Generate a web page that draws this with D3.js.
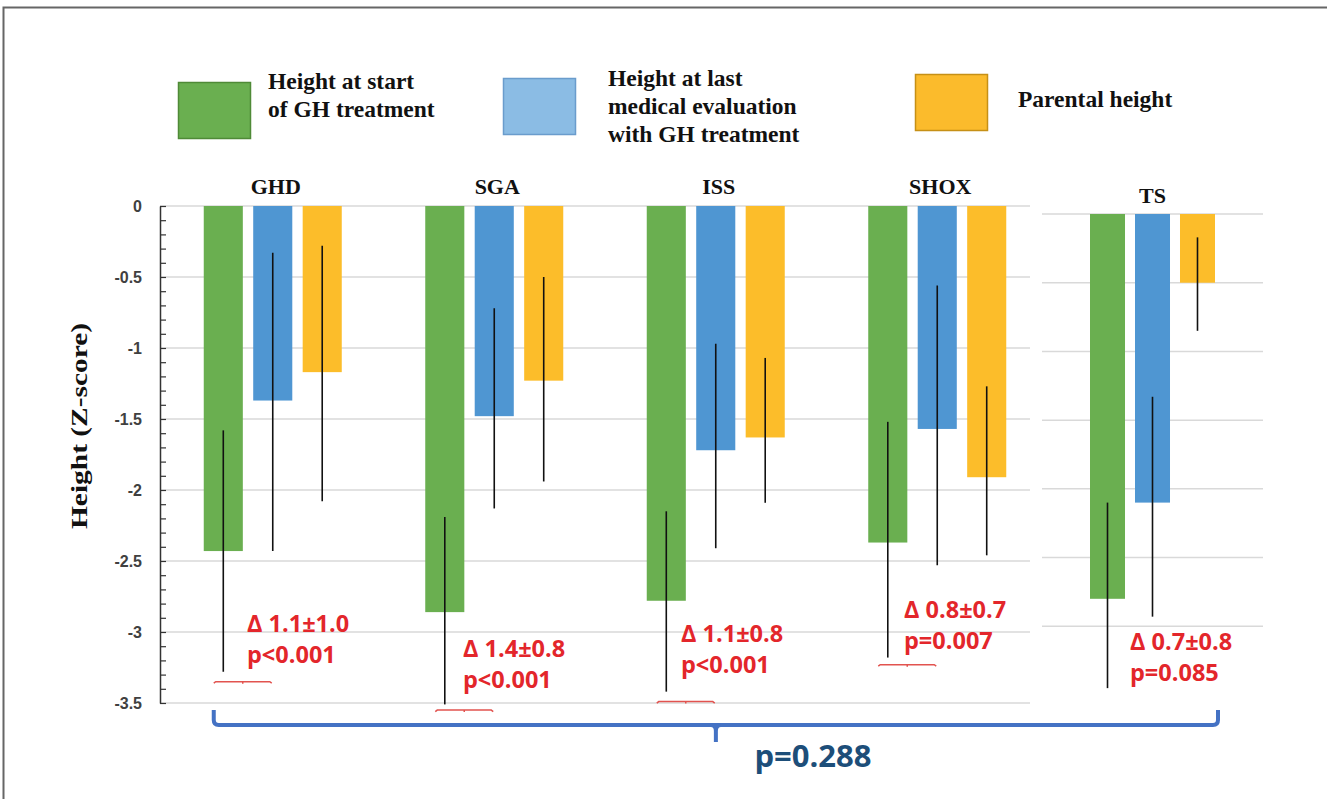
<!DOCTYPE html>
<html>
<head>
<meta charset="utf-8">
<script src="https://cdn.jsdelivr.net/npm/d3@7"></script>
<style>
  body { margin: 0; background: #fff; }
</style>
</head>
<body>
<div id="chart"></div>
<script>
const groups = ['GHD', 'SGA', 'ISS', 'SHOX'];
const tsGroup = 'TS';
const seriesKeys = ['start', 'last', 'parental'];
const legendLabels = [
  ['Height at start', 'of GH treatment'],
  ['Height at last', 'medical evaluation', 'with GH treatment'],
  ['Parental height']
];

// mean Z-scores, order: GHD, SGA, ISS, SHOX, TS
const startMean    = [-2.43, -2.86, -2.78, -2.37, -2.80];
const lastMean     = [-1.37, -1.48, -1.72, -1.57, -2.10];
const parentalMean = [-1.17, -1.23, -1.63, -1.91, -0.50];

// error bar ends (top, bottom)
const startErrTop    = [-1.58, -2.19, -2.15, -1.52, -2.10];
const startErrBottom = [-3.28, -3.51, -3.42, -3.18, -3.45];
const lastErrTop     = [-0.33, -0.72, -0.97, -0.56, -1.33];
const lastErrBottom  = [-2.43, -2.13, -2.41, -2.53, -2.93];
const parErrTop      = [-0.28, -0.50, -1.07, -1.27, -0.17];
const parErrBottom   = [-2.08, -1.94, -2.09, -2.46, -0.85];

const deltaLabels = ['Δ 1.1±1.0', 'Δ 1.4±0.8', 'Δ 1.1±0.8', 'Δ 0.8±0.7', 'Δ 0.7±0.8'];
const pLabels = ['p<0.001', 'p<0.001', 'p<0.001', 'p=0.007', 'p=0.085'];
const bracketLevel = [-3.35, -3.55, -3.49, -3.23];
const overallP = 'p=0.288';

const yTicks = d3.range(0, -3.51, -0.5);
const yMinorTicks = d3.range(0, -3.51, -0.1);

const colors = { start: '#6aaf50', last: '#4f96d2', parental: '#fcbd2a' };
const legendColors = { start: '#6aaf50', last: '#8bbce4', parental: '#fbbb2c' };
const legendStroke = { start: '#4f8a37', last: '#6a9ccc', parental: '#c69016' };

const width = 1327, height = 799;
const allGroups = groups.concat([tsGroup]);
const rows = allGroups.map((g, i) => ({
  name: g,
  start:    { mean: startMean[i],    top: startErrTop[i], bottom: startErrBottom[i] },
  last:     { mean: lastMean[i],     top: lastErrTop[i],  bottom: lastErrBottom[i] },
  parental: { mean: parentalMean[i], top: parErrTop[i],   bottom: parErrBottom[i] }
}));

const svg = d3.select('#chart').append('svg')
  .attr('width', width)
  .attr('height', height);

// outer frame
svg.append('rect')
  .attr('x', 3.5).attr('y', 7.5)
  .attr('width', width).attr('height', height)
  .attr('fill', 'none')
  .attr('stroke', '#666')
  .attr('stroke-width', 2);

// scales, main panel
const yScale = d3.scaleLinear().domain([0, -3.5]).range([206, 703]);
const x0 = d3.scaleBand().domain(groups).range([162, 1048]);
const x1 = d3.scaleBand().domain(seriesKeys).range([0, 138]).paddingInner(0.21);
const groupLeft = g => x0(g) + (x0.bandwidth() - 138) / 2;

// scales, TS panel
const yTs = d3.scaleLinear().domain([0, -3.5]).range([214, 695]);
const xTs = d3.scaleBand().domain(seriesKeys).range([1090, 1215]).paddingInner(0.222);

// gridlines
svg.append('g')
  .selectAll('line')
  .data(yTicks)
  .join('line')
  .attr('x1', 160).attr('x2', 1030)
  .attr('y1', d => yScale(d)).attr('y2', d => yScale(d))
  .attr('stroke', '#d9d9d9')
  .attr('stroke-width', 1.5);

svg.append('g')
  .selectAll('line')
  .data(yTicks.filter(d => d >= -3))
  .join('line')
  .attr('x1', 1042).attr('x2', 1263)
  .attr('y1', d => yTs(d)).attr('y2', d => yTs(d))
  .attr('stroke', '#d9d9d9')
  .attr('stroke-width', 1.5);

// y axis
const yAxis = d3.axisLeft(yScale)
  .tickValues(yTicks)
  .tickSize(0)
  .tickPadding(18)
  .tickFormat(d => String(+d.toFixed(1)));

svg.append('g')
  .attr('transform', 'translate(160,0)')
  .call(yAxis)
  .call(g => g.select('.domain').attr('stroke', '#333').attr('stroke-width', 1.5))
  .call(g => g.selectAll('text')
    .attr('font-family', 'Liberation Sans, Arial, sans-serif')
    .attr('font-weight', 'bold')
    .attr('font-size', 16)
    .attr('fill', '#404040'));

svg.append('g')
  .attr('transform', 'translate(160,0)')
  .call(d3.axisRight(yScale).tickValues(yMinorTicks).tickSize(6).tickFormat(''))
  .call(g => g.select('.domain').remove())
  .call(g => g.selectAll('line').attr('stroke', '#333').attr('stroke-width', 1.2));

const titleFont = 'Liberation Serif, Times New Roman, serif';

svg.append('text')
  .attr('transform', 'translate(87,426) rotate(-90)')
  .attr('text-anchor', 'middle')
  .attr('font-family', titleFont)
  .attr('font-weight', 'bold')
  .attr('font-size', 23)
  .attr('textLength', 206)
  .attr('lengthAdjust', 'spacingAndGlyphs')
  .attr('fill', '#111')
  .text('Height (Z-score)');

// bars, main panel
const mainRows = rows.filter(r => r.name !== tsGroup);
const groupG = svg.append('g')
  .selectAll('g')
  .data(mainRows)
  .join('g')
  .attr('transform', d => `translate(${groupLeft(d.name)},0)`);

groupG.selectAll('rect')
  .data(d => seriesKeys.map(k => ({ key: k, ...d[k] })))
  .join('rect')
  .attr('x', d => x1(d.key))
  .attr('y', yScale(0))
  .attr('width', x1.bandwidth())
  .attr('height', d => yScale(d.mean) - yScale(0))
  .attr('fill', d => colors[d.key]);

groupG.selectAll('line.err')
  .data(d => seriesKeys.map(k => ({ key: k, ...d[k] })))
  .join('line')
  .attr('class', 'err')
  .attr('x1', d => x1(d.key) + x1.bandwidth() / 2)
  .attr('x2', d => x1(d.key) + x1.bandwidth() / 2)
  .attr('y1', d => yScale(d.top))
  .attr('y2', d => yScale(d.bottom))
  .attr('stroke', '#111')
  .attr('stroke-width', 1.6);

// bars, TS panel
const tsRow = rows.find(r => r.name === tsGroup);
const tsData = seriesKeys.map(k => ({ key: k, ...tsRow[k] }));
const tsG = svg.append('g');
tsG.selectAll('rect')
  .data(tsData)
  .join('rect')
  .attr('x', d => xTs(d.key))
  .attr('y', yTs(0))
  .attr('width', xTs.bandwidth())
  .attr('height', d => yTs(d.mean) - yTs(0))
  .attr('fill', d => colors[d.key]);

tsG.selectAll('line')
  .data(tsData)
  .join('line')
  .attr('x1', d => xTs(d.key) + xTs.bandwidth() / 2)
  .attr('x2', d => xTs(d.key) + xTs.bandwidth() / 2)
  .attr('y1', d => yTs(d.top))
  .attr('y2', d => yTs(d.bottom))
  .attr('stroke', '#111')
  .attr('stroke-width', 1.6);

// group titles
svg.append('g')
  .selectAll('text')
  .data(groups)
  .join('text')
  .attr('x', d => x0(d) + x0.bandwidth() / 2 + 3)
  .attr('y', 194)
  .attr('text-anchor', 'middle')
  .attr('font-family', titleFont)
  .attr('font-weight', 'bold')
  .attr('font-size', 22)
  .attr('fill', '#111')
  .text(d => d);

svg.append('text')
  .attr('x', xTs('last') + xTs.bandwidth() / 2)
  .attr('y', 203)
  .attr('text-anchor', 'middle')
  .attr('font-family', titleFont)
  .attr('font-weight', 'bold')
  .attr('font-size', 22)
  .attr('fill', '#111')
  .text(tsGroup);

// red brackets under the green/blue error bars
svg.append('g')
  .selectAll('path')
  .data(groups.map((g, i) => ({ g, level: bracketLevel[i] })))
  .join('path')
  .attr('d', d => {
    const xa = groupLeft(d.g) + 10, xb = xa + 58, yy = yScale(d.level);
    const xm = (xa + xb) / 2;
    return `M${xa},${yy + 1.5} L${xa + 2},${yy} L${xb - 2},${yy} L${xb},${yy + 1.5} M${xm},${yy} L${xm},${yy + 2}`;
  })
  .attr('fill', 'none')
  .attr('stroke', '#e2534f')
  .attr('stroke-width', 1.5);

// delta annotations
const annoPos = [
  { x: 247, y: 632 }, { x: 463, y: 657 }, { x: 681, y: 642 },
  { x: 904, y: 618 }, { x: 1130, y: 650 }
];
const anno = svg.append('g')
  .attr('font-family', 'Open Sans, Noto Sans, sans-serif')
  .attr('font-weight', 'bold')
  .attr('font-size', 23.5)
  .attr('fill', '#e3262b');

anno.selectAll('text.delta')
  .data(deltaLabels)
  .join('text')
  .attr('class', 'delta')
  .attr('x', (d, i) => annoPos[i].x)
  .attr('y', (d, i) => annoPos[i].y)
  .text(d => d);

anno.selectAll('text.p')
  .data(pLabels)
  .join('text')
  .attr('class', 'p')
  .attr('x', (d, i) => annoPos[i].x)
  .attr('y', (d, i) => annoPos[i].y + 31)
  .text(d => d);

// overall brace
const braceL = groupLeft('GHD') + 10;
const braceR = xTs('parental') + xTs.bandwidth() + 3;
const braceM = (braceL + braceR) / 2;
const braceY = 725;
const bp = d3.path();
bp.moveTo(braceL, 710);
bp.lineTo(braceL, braceY - 5);
bp.quadraticCurveTo(braceL, braceY, braceL + 5, braceY);
bp.lineTo(braceR - 5, braceY);
bp.quadraticCurveTo(braceR, braceY, braceR, braceY - 5);
bp.lineTo(braceR, 710);
svg.append('path')
  .attr('d', bp.toString())
  .attr('fill', 'none')
  .attr('stroke', '#4472c4')
  .attr('stroke-width', 4);

svg.append('path')
  .attr('d', `M${braceM - 5},${braceY} Q${braceM},${braceY} ${braceM},${braceY + 6} L${braceM},${braceY + 17} M${braceM + 5},${braceY} Q${braceM},${braceY} ${braceM},${braceY + 6}`)
  .attr('fill', 'none')
  .attr('stroke', '#4472c4')
  .attr('stroke-width', 4);

svg.append('text')
  .attr('x', 813)
  .attr('y', 767)
  .attr('text-anchor', 'middle')
  .attr('font-family', 'Open Sans, Noto Sans, sans-serif')
  .attr('font-weight', 'bold')
  .attr('font-size', 31)
  .attr('fill', '#1d4e79')
  .text(overallP);

// legend
const legendPos = [
  { rx: 178, ry: 82, tx: 268, ty: 89 },
  { rx: 503, ry: 78, tx: 608, ty: 86 },
  { rx: 915, ry: 74, tx: 1018, ty: 107 }
];
const legend = svg.append('g')
  .selectAll('g')
  .data(seriesKeys)
  .join('g');

legend.append('rect')
  .attr('x', (d, i) => legendPos[i].rx + 0.5)
  .attr('y', (d, i) => legendPos[i].ry + 0.5)
  .attr('width', 72)
  .attr('height', 56)
  .attr('fill', d => legendColors[d])
  .attr('stroke', d => legendStroke[d])
  .attr('stroke-width', 1.5);

legend.append('text')
  .attr('font-family', titleFont)
  .attr('font-weight', 'bold')
  .attr('font-size', 23.5)
  .attr('fill', '#111')
  .each(function (d, i) {
    d3.select(this).selectAll('tspan')
      .data(legendLabels[i])
      .join('tspan')
      .attr('x', legendPos[i].tx)
      .attr('y', (t, j) => legendPos[i].ty + j * 28)
      .text(t => t);
  });
</script>
</body>
</html>
